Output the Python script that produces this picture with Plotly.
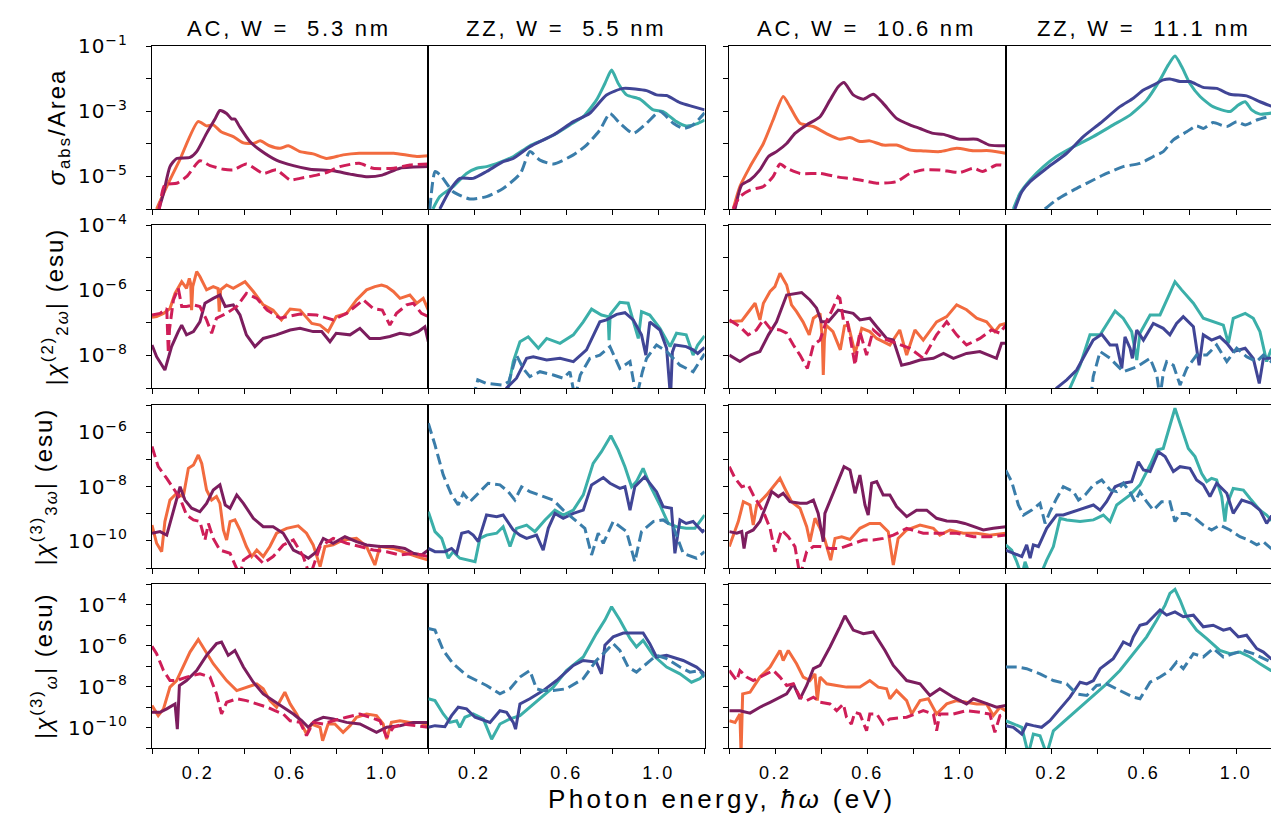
import plotly.graph_objects as go

# ---------------- data (x in eV, y given as log10 of the quantity) ----------------
# Row 1: sigma_abs / Area
r1c1_orange = [(0.02,-6.0),(0.064,-5.31),(0.12,-4.5),(0.2,-3.32),(0.237,-3.45),(0.266,-3.42),(0.30,-3.63),(0.353,-3.78),(0.397,-3.97),(0.44,-3.99),(0.47,-3.91),(0.51,-4.06),(0.556,-4.14),(0.592,-4.06),(0.643,-4.24),(0.70,-4.31),(0.758,-4.45),(0.83,-4.34),(0.90,-4.29),(0.975,-4.29),(1.05,-4.29),(1.15,-4.39),(1.2,-4.37)]
r1c1_purple = [(0.03,-6.0),(0.05,-5.52),(0.078,-4.70),(0.107,-4.45),(0.165,-4.42),(0.194,-4.24),(0.237,-3.68),(0.273,-3.25),(0.295,-2.98),(0.324,-3.07),(0.346,-3.24),(0.36,-3.24),(0.38,-3.47),(0.425,-3.93),(0.469,-4.19),(0.54,-4.50),(0.614,-4.67),(0.686,-4.78),(0.787,-4.83),(0.86,-4.93),(0.93,-5.01),(1.0,-4.96),(1.077,-4.75),(1.2,-4.70)]
r1c1_crimson = [(0.03,-6.1),(0.056,-5.26),(0.107,-5.21),(0.15,-5.01),(0.208,-4.52),(0.252,-4.67),(0.31,-4.78),(0.353,-4.80),(0.41,-4.62),(0.483,-4.91),(0.54,-4.80),(0.6,-5.11),(0.643,-5.06),(0.715,-4.96),(0.758,-4.88),(0.816,-4.70),(0.90,-4.60),(0.96,-4.75),(1.05,-4.75),(1.12,-4.65),(1.2,-4.62)]

r1c2_teal = [(0.02,-6.0),(0.05,-5.62),(0.108,-5.31),(0.166,-4.91),(0.21,-4.75),(0.253,-4.70),(0.31,-4.57),(0.37,-4.39),(0.441,-4.06),(0.50,-3.88),(0.557,-3.68),(0.615,-3.42),(0.673,-3.17),(0.73,-2.66),(0.767,-2.15),(0.796,-1.74),(0.825,-2.15),(0.861,-2.50),(0.919,-2.63),(0.977,-2.96),(1.02,-3.01),(1.078,-3.32),(1.12,-3.45),(1.165,-3.39),(1.2,-3.27)]
r1c2_indigo = [(0.05,-6.0),(0.094,-5.42),(0.137,-5.06),(0.195,-5.06),(0.253,-4.85),(0.325,-4.55),(0.369,-4.45),(0.441,-4.09),(0.543,-3.73),(0.63,-3.32),(0.70,-3.07),(0.774,-2.50),(0.847,-2.30),(0.948,-2.37),(0.991,-2.50),(1.035,-2.52),(1.093,-2.74),(1.15,-2.86),(1.2,-2.96)]
r1c2_steel = [(0.007,-6.0),(0.03,-4.85),(0.058,-5.01),(0.108,-5.47),(0.18,-5.69),(0.253,-5.62),(0.325,-5.37),(0.40,-4.91),(0.441,-4.24),(0.485,-4.50),(0.543,-4.62),(0.63,-4.34),(0.687,-4.04),(0.745,-3.58),(0.789,-3.07),(0.832,-3.37),(0.89,-3.68),(0.948,-3.37),(1.006,-3.01),(1.064,-3.37),(1.107,-3.53),(1.15,-3.42),(1.2,-3.05)]

r1c3_orange = [(0.017,-6.0),(0.046,-5.31),(0.09,-4.70),(0.148,-3.99),(0.19,-3.27),(0.234,-2.55),(0.263,-2.86),(0.307,-3.37),(0.365,-3.47),(0.42,-3.68),(0.48,-3.86),(0.524,-3.81),(0.567,-3.93),(0.61,-3.91),(0.668,-4.04),(0.726,-4.04),(0.784,-4.19),(0.842,-4.22),(0.914,-4.24),(0.987,-4.14),(1.06,-4.21),(1.13,-4.21),(1.2,-4.29)]
r1c3_purple = [(0.025,-6.0),(0.054,-5.26),(0.09,-5.11),(0.133,-4.80),(0.17,-4.39),(0.205,-4.24),(0.249,-3.99),(0.285,-3.68),(0.336,-3.42),(0.394,-3.17),(0.437,-2.66),(0.473,-2.25),(0.498,-2.12),(0.538,-2.50),(0.582,-2.63),(0.625,-2.48),(0.668,-2.76),(0.726,-3.22),(0.784,-3.42),(0.828,-3.53),(0.886,-3.68),(0.93,-3.71),(1.0,-3.86),(1.074,-3.86),(1.13,-4.04),(1.2,-4.06)]
r1c3_crimson = [(0.017,-6.0),(0.046,-5.62),(0.09,-5.42),(0.148,-5.31),(0.19,-5.01),(0.22,-4.62),(0.249,-4.75),(0.307,-4.91),(0.394,-4.91),(0.48,-5.03),(0.524,-5.06),(0.567,-5.11),(0.64,-5.21),(0.726,-5.16),(0.784,-4.91),(0.842,-4.80),(0.914,-4.80),(1.0,-4.88),(1.06,-4.75),(1.10,-4.85),(1.16,-4.65),(1.2,-4.67)]

r1c4_teal = [(0.033,-6.0),(0.062,-5.52),(0.106,-5.11),(0.164,-4.70),(0.22,-4.39),(0.294,-4.09),(0.38,-3.78),(0.467,-3.42),(0.54,-3.12),(0.612,-2.66),(0.67,-2.04),(0.706,-1.58),(0.735,-1.31),(0.764,-1.63),(0.80,-2.15),(0.844,-2.55),(0.90,-2.86),(0.974,-3.01),(1.01,-2.81),(1.04,-2.71),(1.068,-2.96),(1.104,-3.09),(1.2,-3.0)]
r1c4_indigo = [(0.04,-6.0),(0.07,-5.47),(0.106,-5.16),(0.178,-4.75),(0.265,-4.29),(0.337,-3.78),(0.41,-3.37),(0.496,-2.86),(0.554,-2.60),(0.598,-2.35),(0.641,-2.20),(0.684,-2.04),(0.713,-2.01),(0.757,-2.09),(0.80,-2.09),(0.858,-2.27),(0.916,-2.30),(0.974,-2.48),(1.046,-2.53),(1.104,-2.71),(1.152,-2.84),(1.2,-2.92)]
r1c4_steel = [(0.17,-6.0),(0.22,-5.72),(0.294,-5.42),(0.38,-5.11),(0.438,-4.91),(0.51,-4.70),(0.583,-4.60),(0.641,-4.39),(0.684,-4.24),(0.728,-3.88),(0.786,-3.63),(0.829,-3.45),(0.858,-3.53),(0.90,-3.35),(0.96,-3.47),(1.003,-3.32),(1.04,-3.42),(1.09,-3.27),(1.152,-3.15),(1.2,-3.1)]

# Row 2: |chi^(2)_2w|
r2c1_orange = [(0,-6.83),(0.02,-6.81),(0.05,-6.71),(0.078,-6.56),(0.1,-6.10),(0.129,-5.74),(0.15,-5.94),(0.162,-5.64),(0.168,-5.8),(0.172,-6.61),(0.177,-5.89),(0.194,-5.43),(0.208,-5.58),(0.237,-5.99),(0.266,-5.89),(0.287,-5.95),(0.292,-6.66),(0.298,-5.99),(0.324,-5.84),(0.353,-5.94),(0.404,-5.74),(0.44,-6.04),(0.483,-6.45),(0.526,-6.61),(0.562,-6.91),(0.6,-6.58),(0.643,-6.61),(0.694,-7.02),(0.73,-7.07),(0.765,-7.27),(0.80,-6.81),(0.845,-6.71),(0.888,-6.30),(0.932,-5.99),(0.968,-5.89),(0.997,-5.84),(1.019,-5.89),(1.048,-6.04),(1.077,-6.25),(1.12,-6.15),(1.15,-6.40),(1.178,-6.25),(1.2,-6.61)]
r2c1_purple = [(0,-7.68),(0.02,-8.04),(0.056,-8.45),(0.085,-7.73),(0.114,-7.27),(0.129,-7.07),(0.15,-7.37),(0.18,-7.27),(0.208,-6.97),(0.23,-6.40),(0.266,-6.25),(0.295,-6.15),(0.318,-6.50),(0.353,-6.45),(0.382,-6.76),(0.41,-7.37),(0.447,-7.73),(0.483,-7.48),(0.54,-7.37),(0.6,-7.22),(0.643,-7.17),(0.70,-7.27),(0.737,-7.27),(0.773,-7.58),(0.80,-7.32),(0.86,-7.37),(0.903,-7.17),(0.946,-7.48),(0.99,-7.48),(1.033,-7.42),(1.077,-7.32),(1.12,-7.37),(1.156,-7.27),(1.185,-7.12),(1.2,-7.58)]
r2c1_crimson = [(0,-6.76),(0.035,-6.71),(0.064,-6.56),(0.068,-7.2),(0.071,-7.94),(0.076,-7.2),(0.093,-6.30),(0.114,-5.94),(0.129,-6.50),(0.15,-6.50),(0.18,-6.45),(0.208,-6.50),(0.237,-6.91),(0.259,-7.32),(0.28,-6.86),(0.324,-6.71),(0.368,-6.50),(0.41,-6.10),(0.455,-6.25),(0.50,-6.61),(0.556,-6.86),(0.643,-6.73),(0.715,-6.76),(0.787,-6.91),(0.845,-6.71),(0.918,-6.30),(0.96,-6.56),(1.0,-6.61),(1.033,-7.07),(1.062,-6.71),(1.106,-6.45),(1.135,-6.40),(1.17,-6.71),(1.2,-6.81)]

r2c2_teal = [(0.335,-9.3),(0.347,-9.0),(0.369,-8.19),(0.398,-7.58),(0.434,-7.43),(0.478,-7.78),(0.514,-7.48),(0.572,-7.63),(0.63,-7.37),(0.673,-6.97),(0.709,-6.58),(0.752,-6.76),(0.781,-6.81),(0.785,-7.53),(0.79,-6.75),(0.832,-6.37),(0.868,-6.40),(0.897,-7.07),(0.912,-7.48),(0.926,-6.66),(0.962,-6.76),(1.006,-7.17),(1.05,-7.73),(1.078,-7.32),(1.12,-7.37),(1.15,-7.99),(1.17,-7.68),(1.2,-7.40)]
r2c2_indigo = [(0.33,-9.3),(0.34,-9.0),(0.383,-8.70),(0.427,-8.09),(0.456,-8.04),(0.514,-8.14),(0.572,-8.09),(0.63,-8.19),(0.687,-7.83),(0.745,-6.97),(0.774,-6.91),(0.818,-6.74),(0.854,-6.69),(0.89,-6.91),(0.926,-7.37),(0.945,-7.99),(0.962,-6.97),(1.006,-7.22),(1.035,-7.78),(1.052,-9.3),(1.06,-7.9),(1.071,-7.68),(1.12,-7.73),(1.15,-7.83),(1.17,-7.94),(1.2,-7.75)]
r2c2_steel = [(0.195,-9.3),(0.215,-8.75),(0.253,-8.86),(0.325,-8.91),(0.35,-8.8),(0.383,-7.99),(0.412,-8.40),(0.441,-8.65),(0.485,-8.50),(0.543,-8.60),(0.586,-8.70),(0.615,-8.50),(0.637,-9.3),(0.66,-8.6),(0.702,-8.09),(0.745,-7.99),(0.789,-7.73),(0.832,-8.40),(0.876,-8.19),(0.904,-9.3),(0.93,-8.5),(0.948,-8.09),(0.991,-7.68),(1.035,-7.88),(1.093,-8.30),(1.15,-8.50),(1.2,-7.95)]

r2c3_orange = [(0.0,-6.97),(0.054,-6.94),(0.084,-6.66),(0.112,-6.40),(0.133,-6.91),(0.148,-6.40),(0.177,-6.04),(0.198,-5.89),(0.22,-5.48),(0.249,-5.84),(0.27,-6.45),(0.292,-6.66),(0.32,-6.97),(0.347,-7.37),(0.365,-6.86),(0.394,-6.71),(0.404,-7.5),(0.408,-8.60),(0.413,-7.5),(0.42,-7.07),(0.45,-7.27),(0.482,-7.83),(0.50,-7.1),(0.517,-7.07),(0.546,-7.94),(0.575,-7.17),(0.61,-7.27),(0.64,-7.48),(0.668,-7.58),(0.697,-7.68),(0.74,-7.22),(0.77,-7.99),(0.806,-7.22),(0.842,-7.53),(0.9,-6.97),(0.944,-6.81),(0.987,-6.45),(1.03,-6.60),(1.074,-6.86),(1.117,-6.97),(1.153,-7.27),(1.175,-7.07),(1.2,-7.02)]
r2c3_purple = [(0.0,-7.99),(0.046,-8.19),(0.09,-7.99),(0.133,-7.88),(0.17,-7.37),(0.205,-6.97),(0.249,-6.15),(0.314,-6.07),(0.35,-6.30),(0.379,-6.55),(0.4,-6.97),(0.43,-6.97),(0.473,-6.61),(0.502,-6.66),(0.538,-6.71),(0.567,-6.91),(0.61,-6.86),(0.64,-7.12),(0.683,-7.48),(0.712,-7.53),(0.748,-8.30),(0.784,-8.24),(0.828,-8.14),(0.886,-8.09),(0.93,-7.94),(0.973,-8.09),(1.03,-7.94),(1.088,-7.88),(1.16,-8.09),(1.182,-7.63),(1.2,-7.63)]
r2c3_crimson = [(0.0,-6.91),(0.046,-7.12),(0.082,-7.37),(0.118,-7.22),(0.148,-6.91),(0.177,-7.17),(0.22,-7.22),(0.249,-7.32),(0.278,-7.68),(0.307,-7.99),(0.339,-8.40),(0.365,-7.68),(0.394,-7.53),(0.42,-6.97),(0.443,-6.66),(0.472,-6.20),(0.48,-6.25),(0.494,-6.86),(0.51,-6.86),(0.546,-8.30),(0.567,-7.27),(0.596,-7.99),(0.625,-7.22),(0.668,-7.48),(0.726,-7.63),(0.784,-7.78),(0.842,-8.09),(0.9,-7.37),(0.944,-6.97),(0.987,-7.37),(1.03,-7.68),(1.088,-7.48),(1.138,-7.22),(1.175,-7.32),(1.2,-7.07)]

r2c4_teal = [(0.27,-9.3),(0.279,-9.0),(0.323,-8.30),(0.366,-7.37),(0.41,-7.37),(0.438,-7.07),(0.475,-6.64),(0.51,-6.86),(0.547,-7.27),(0.569,-8.14),(0.583,-7.32),(0.627,-6.76),(0.67,-6.76),(0.706,-6.20),(0.735,-5.74),(0.764,-5.99),(0.815,-6.40),(0.858,-6.86),(0.90,-6.97),(0.945,-7.07),(0.967,-7.63),(0.988,-6.86),(1.04,-6.71),(1.075,-6.86),(1.104,-7.27),(1.133,-8.19),(1.152,-7.83),(1.2,-7.6)]
r2c4_indigo = [(0.21,-9.3),(0.221,-9.0),(0.265,-8.75),(0.308,-8.45),(0.352,-7.88),(0.38,-7.53),(0.417,-7.35),(0.453,-7.68),(0.482,-7.68),(0.504,-8.40),(0.518,-7.43),(0.54,-7.78),(0.55,-8.09),(0.569,-7.22),(0.598,-7.53),(0.641,-7.02),(0.684,-7.17),(0.713,-7.37),(0.742,-7.02),(0.771,-6.81),(0.815,-7.12),(0.84,-8.30),(0.858,-7.37),(0.894,-7.53),(0.93,-7.43),(0.96,-7.63),(0.988,-7.88),(1.04,-7.78),(1.075,-8.09),(1.101,-8.86),(1.119,-8.09),(1.152,-8.09),(1.2,-8.0)]
r2c4_steel = [(0.37,-9.3),(0.38,-8.65),(0.41,-7.88),(0.453,-8.09),(0.511,-8.50),(0.569,-8.35),(0.627,-8.09),(0.656,-8.60),(0.67,-9.3),(0.685,-8.5),(0.699,-8.19),(0.728,-8.30),(0.757,-8.91),(0.786,-8.40),(0.829,-7.99),(0.873,-7.99),(0.916,-7.68),(0.96,-8.19),(1.003,-7.78),(1.046,-8.04),(1.09,-8.19),(1.119,-7.99),(1.152,-8.19),(1.2,-8.1)]

# Row 3: |chi^(3)_3w|
r3c1_orange = [(0,-9.42),(0.02,-10.09),(0.042,-10.40),(0.056,-9.29),(0.078,-8.50),(0.107,-8.25),(0.136,-8.37),(0.158,-7.33),(0.18,-7.21),(0.201,-6.84),(0.216,-7.15),(0.237,-8.13),(0.259,-8.50),(0.28,-8.37),(0.295,-8.62),(0.31,-9.60),(0.324,-9.97),(0.339,-9.29),(0.36,-9.23),(0.382,-9.60),(0.41,-10.21),(0.433,-10.58),(0.455,-10.34),(0.483,-10.58),(0.512,-10.21),(0.541,-9.72),(0.585,-9.54),(0.635,-9.45),(0.671,-9.72),(0.70,-10.15),(0.73,-10.95),(0.751,-10.21),(0.787,-10.15),(0.83,-9.97),(0.888,-9.91),(0.932,-10.21),(0.968,-10.89),(0.99,-10.21),(1.048,-10.28),(1.106,-10.46),(1.15,-10.58),(1.2,-10.71)]
r3c1_purple = [(0,-9.72),(0.035,-9.66),(0.064,-9.79),(0.085,-9.11),(0.107,-8.50),(0.122,-8.01),(0.143,-8.50),(0.172,-8.80),(0.208,-8.93),(0.237,-8.62),(0.266,-8.13),(0.295,-7.94),(0.318,-8.68),(0.339,-8.80),(0.368,-8.31),(0.397,-8.62),(0.44,-9.17),(0.483,-9.48),(0.526,-9.48),(0.57,-9.72),(0.614,-10.34),(0.643,-10.46),(0.679,-10.64),(0.715,-10.40),(0.744,-9.91),(0.787,-10.09),(0.838,-9.85),(0.888,-10.03),(0.932,-10.15),(0.99,-10.21),(1.048,-10.21),(1.098,-10.28),(1.135,-10.46),(1.171,-10.52),(1.2,-10.34)]
r3c1_crimson = [(0,-6.53),(0.027,-7.27),(0.064,-7.70),(0.093,-8.07),(0.122,-8.44),(0.15,-9.05),(0.18,-9.23),(0.208,-9.29),(0.23,-9.97),(0.245,-9.36),(0.266,-9.91),(0.295,-10.34),(0.339,-10.46),(0.382,-11.3),(0.397,-10.71),(0.44,-10.46),(0.483,-10.83),(0.526,-10.58),(0.57,-10.15),(0.614,-9.97),(0.657,-10.58),(0.686,-11.3),(0.73,-10.21),(0.787,-9.91),(0.845,-10.09),(0.903,-10.21),(0.961,-10.34),(1.019,-10.40),(1.077,-10.52),(1.135,-10.46),(1.2,-10.58)]

r3c2_teal = [(0,-8.93),(0.029,-9.66),(0.058,-9.91),(0.087,-10.64),(0.108,-10.40),(0.137,-10.64),(0.203,-10.77),(0.224,-9.91),(0.253,-9.79),(0.297,-9.72),(0.325,-9.48),(0.355,-10.21),(0.383,-9.54),(0.427,-9.42),(0.463,-9.66),(0.507,-9.23),(0.55,-8.87),(0.586,-9.05),(0.63,-8.87),(0.673,-8.31),(0.716,-7.15),(0.752,-6.72),(0.793,-6.13),(0.825,-6.66),(0.854,-7.27),(0.883,-8.01),(0.904,-7.82),(0.933,-7.33),(0.962,-7.94),(1.006,-8.68),(1.042,-9.36),(1.078,-9.48),(1.12,-9.54),(1.158,-9.54),(1.2,-9.05)]
r3c2_indigo = [(0,-10.28),(0.029,-10.40),(0.072,-10.40),(0.101,-10.28),(0.123,-10.46),(0.145,-9.72),(0.174,-9.66),(0.195,-9.79),(0.217,-10.03),(0.253,-9.05),(0.297,-9.11),(0.325,-9.05),(0.369,-9.60),(0.398,-9.79),(0.427,-9.91),(0.47,-9.79),(0.499,-10.34),(0.521,-9.54),(0.55,-8.99),(0.586,-9.17),(0.63,-8.99),(0.673,-8.87),(0.709,-7.94),(0.76,-7.67),(0.789,-7.88),(0.832,-8.07),(0.854,-8.01),(0.876,-8.87),(0.897,-8.01),(0.94,-7.64),(0.991,-8.19),(1.02,-8.74),(1.056,-8.80),(1.071,-10.46),(1.093,-9.23),(1.12,-9.36),(1.15,-9.29),(1.191,-9.66),(1.2,-9.6)]
r3c2_steel = [(0,-5.67),(0.029,-6.47),(0.065,-7.58),(0.101,-8.31),(0.13,-8.68),(0.152,-8.25),(0.181,-8.56),(0.217,-8.25),(0.26,-7.88),(0.311,-7.94),(0.347,-8.19),(0.376,-8.50),(0.405,-8.01),(0.441,-8.19),(0.499,-8.37),(0.543,-8.50),(0.586,-8.87),(0.63,-9.17),(0.68,-9.54),(0.709,-10.52),(0.738,-9.72),(0.76,-10.09),(0.803,-9.29),(0.861,-9.66),(0.897,-10.77),(0.926,-9.66),(0.977,-9.29),(1.02,-9.23),(1.064,-9.48),(1.107,-10.46),(1.165,-10.64),(1.2,-10.40)]

r3c3_orange = [(0.0,-10.21),(0.039,-9.29),(0.061,-8.56),(0.09,-8.68),(0.104,-9.42),(0.119,-8.68),(0.162,-8.31),(0.198,-7.94),(0.22,-7.70),(0.241,-8.07),(0.27,-8.56),(0.307,-8.80),(0.336,-9.48),(0.35,-10.03),(0.372,-9.17),(0.394,-9.54),(0.415,-9.97),(0.44,-10.71),(0.459,-9.91),(0.488,-9.85),(0.524,-9.95),(0.567,-9.54),(0.61,-9.36),(0.654,-9.36),(0.69,-9.66),(0.712,-10.89),(0.733,-9.91),(0.77,-9.60),(0.828,-9.42),(0.886,-9.54),(0.914,-9.79),(0.958,-9.60),(1.016,-9.72),(1.074,-9.72),(1.13,-9.79),(1.2,-9.72)]
r3c3_purple = [(0.0,-9.66),(0.032,-9.72),(0.054,-9.66),(0.064,-10.28),(0.075,-9.72),(0.104,-9.60),(0.133,-9.29),(0.162,-8.62),(0.184,-8.19),(0.213,-8.37),(0.234,-8.25),(0.263,-8.56),(0.307,-8.62),(0.336,-8.62),(0.365,-8.50),(0.386,-8.99),(0.408,-10.03),(0.415,-8.99),(0.452,-8.19),(0.498,-7.27),(0.524,-7.39),(0.546,-8.25),(0.567,-7.58),(0.589,-8.68),(0.603,-9.05),(0.618,-7.88),(0.64,-7.82),(0.668,-8.31),(0.697,-8.31),(0.726,-8.74),(0.77,-9.11),(0.813,-8.87),(0.857,-8.87),(0.9,-9.17),(0.944,-9.27),(0.987,-9.29),(1.022,-9.36),(1.06,-9.48),(1.103,-9.60),(1.146,-9.54),(1.2,-9.48)]
r3c3_crimson = [(0.0,-7.27),(0.025,-7.70),(0.054,-8.01),(0.082,-7.94),(0.104,-8.31),(0.148,-8.93),(0.177,-9.54),(0.198,-10.40),(0.227,-9.60),(0.256,-9.85),(0.285,-10.21),(0.307,-11.3),(0.336,-10.40),(0.365,-10.21),(0.394,-10.21),(0.437,-10.28),(0.48,-10.28),(0.538,-10.09),(0.582,-9.97),(0.625,-9.97),(0.668,-9.91),(0.712,-9.79),(0.77,-9.54),(0.842,-9.72),(0.914,-9.72),(0.987,-9.72),(1.06,-9.85),(1.13,-9.85),(1.2,-9.79)]

r3c4_teal = [(0.0,-10.15),(0.026,-10.34),(0.048,-10.77),(0.07,-11.3),(0.084,-10.77),(0.106,-11.3),(0.149,-11.3),(0.178,-10.71),(0.207,-10.21),(0.236,-9.17),(0.265,-9.23),(0.323,-9.29),(0.381,-9.23),(0.424,-9.05),(0.453,-9.29),(0.482,-8.68),(0.54,-8.31),(0.583,-7.94),(0.627,-7.21),(0.656,-6.66),(0.684,-6.60),(0.706,-5.98),(0.735,-5.12),(0.764,-5.86),(0.793,-6.60),(0.822,-6.90),(0.851,-7.52),(0.873,-7.82),(0.894,-7.70),(0.916,-7.76),(0.938,-8.37),(0.952,-9.29),(0.96,-8.68),(0.988,-8.07),(1.032,-8.13),(1.061,-8.44),(1.104,-8.87),(1.133,-9.05),(1.152,-9.23),(1.2,-9.4)]
r3c4_indigo = [(0.0,-10.34),(0.033,-10.46),(0.07,-10.58),(0.091,-10.15),(0.106,-10.64),(0.12,-10.15),(0.142,-10.21),(0.178,-9.54),(0.221,-9.05),(0.25,-9.05),(0.294,-8.93),(0.337,-8.80),(0.381,-8.68),(0.41,-8.87),(0.438,-8.56),(0.475,-8.01),(0.511,-7.88),(0.547,-7.82),(0.576,-7.09),(0.598,-7.39),(0.627,-7.45),(0.663,-6.72),(0.692,-6.90),(0.728,-7.45),(0.757,-7.27),(0.80,-7.33),(0.829,-7.76),(0.858,-7.94),(0.887,-8.37),(0.916,-7.88),(0.96,-8.25),(0.988,-8.99),(1.025,-8.50),(1.068,-8.62),(1.104,-8.87),(1.133,-9.36),(1.152,-9.11),(1.2,-9.2)]
r3c4_steel = [(0.0,-7.40),(0.026,-7.82),(0.055,-8.68),(0.077,-9.05),(0.113,-8.87),(0.149,-8.62),(0.171,-9.36),(0.192,-8.93),(0.221,-8.44),(0.25,-8.01),(0.294,-8.19),(0.316,-8.50),(0.345,-8.31),(0.381,-7.94),(0.417,-7.76),(0.454,-8.13),(0.482,-8.19),(0.511,-7.88),(0.539,-8.19),(0.561,-8.56),(0.583,-8.19),(0.612,-8.56),(0.641,-8.87),(0.677,-8.56),(0.713,-8.56),(0.735,-9.29),(0.757,-8.99),(0.786,-8.99),(0.822,-9.17),(0.858,-9.42),(0.894,-9.60),(0.93,-9.42),(0.974,-9.60),(1.017,-9.85),(1.054,-9.97),(1.09,-10.15),(1.119,-10.03),(1.152,-10.28),(1.2,-10.35)]

# Row 4: |chi^(3)_w|
r4c1_orange = [(0,-8.93),(0.027,-9.42),(0.05,-9.09),(0.078,-8.03),(0.107,-7.71),(0.136,-7.05),(0.165,-6.32),(0.201,-5.71),(0.23,-6.24),(0.266,-6.89),(0.295,-7.30),(0.324,-7.71),(0.368,-8.20),(0.41,-8.03),(0.455,-7.87),(0.483,-8.11),(0.512,-8.69),(0.541,-9.01),(0.577,-8.28),(0.6,-8.85),(0.628,-9.34),(0.65,-9.83),(0.671,-10.32),(0.693,-9.83),(0.73,-9.99),(0.741,-10.65),(0.765,-9.83),(0.794,-9.83),(0.83,-10.24),(0.86,-9.91),(0.888,-9.50),(0.932,-9.34),(0.975,-9.42),(1.004,-9.83),(1.019,-10.57),(1.04,-9.75),(1.077,-9.67),(1.12,-9.75),(1.164,-9.75),(1.2,-9.91)]
r4c1_purple = [(0,-9.26),(0.035,-9.26),(0.064,-9.09),(0.1,-8.85),(0.11,-10.08),(0.119,-7.95),(0.15,-7.71),(0.194,-7.22),(0.237,-6.48),(0.28,-5.91),(0.302,-5.83),(0.331,-6.48),(0.36,-6.24),(0.397,-7.05),(0.44,-7.79),(0.483,-8.36),(0.527,-8.69),(0.57,-9.01),(0.614,-9.34),(0.65,-9.67),(0.679,-9.99),(0.708,-9.67),(0.744,-9.50),(0.787,-9.58),(0.845,-9.75),(0.903,-9.83),(0.946,-10.08),(0.975,-10.24),(1.019,-9.99),(1.077,-9.91),(1.135,-9.75),(1.2,-9.75)]
r4c1_crimson = [(0,-6.04),(0.02,-6.40),(0.05,-7.22),(0.078,-7.71),(0.107,-7.71),(0.15,-7.54),(0.208,-7.38),(0.252,-7.54),(0.28,-8.36),(0.302,-9.34),(0.324,-8.77),(0.368,-8.60),(0.41,-8.69),(0.455,-8.85),(0.5,-9.01),(0.534,-9.18),(0.57,-9.34),(0.6,-9.67),(0.643,-9.75),(0.671,-10.40),(0.70,-9.75),(0.744,-9.83),(0.787,-9.67),(0.845,-9.50),(0.903,-9.34),(0.946,-9.50),(0.99,-9.67),(1.019,-10.48),(1.048,-9.99),(1.09,-9.83),(1.15,-9.91),(1.2,-9.99)]

r4c2_teal = [(0,-8.60),(0.029,-8.69),(0.065,-9.34),(0.094,-9.75),(0.123,-9.67),(0.137,-9.99),(0.159,-9.50),(0.195,-9.34),(0.239,-9.58),(0.275,-10.57),(0.311,-9.83),(0.355,-9.58),(0.398,-9.42),(0.441,-9.01),(0.485,-8.60),(0.543,-8.03),(0.6,-7.22),(0.673,-6.56),(0.73,-5.42),(0.767,-4.76),(0.796,-4.11),(0.832,-4.76),(0.876,-5.66),(0.904,-6.07),(0.933,-5.75),(0.977,-6.48),(1.035,-7.05),(1.093,-7.38),(1.143,-7.79),(1.179,-7.62),(1.2,-7.38)]
r4c2_indigo = [(0,-9.99),(0.029,-9.91),(0.072,-9.96),(0.101,-9.42),(0.13,-9.01),(0.166,-9.09),(0.203,-9.50),(0.268,-9.75),(0.311,-9.18),(0.34,-9.26),(0.369,-9.75),(0.379,-10.08),(0.398,-8.85),(0.441,-8.60),(0.499,-8.20),(0.557,-7.71),(0.63,-6.97),(0.673,-6.73),(0.73,-6.81),(0.752,-7.38),(0.767,-5.99),(0.803,-5.58),(0.847,-5.39),(0.933,-5.39),(0.962,-5.91),(0.991,-6.56),(1.035,-6.48),(1.107,-6.73),(1.165,-7.05),(1.2,-7.38)]
r4c2_steel = [(0,-5.17),(0.029,-5.25),(0.065,-6.24),(0.108,-6.89),(0.166,-7.46),(0.21,-7.71),(0.253,-7.95),(0.311,-8.36),(0.355,-8.11),(0.398,-7.54),(0.441,-7.22),(0.47,-8.11),(0.499,-8.20),(0.543,-8.20),(0.6,-8.11),(0.673,-7.62),(0.73,-6.73),(0.767,-6.32),(0.803,-5.91),(0.832,-6.24),(0.868,-7.05),(0.904,-7.30),(0.948,-6.89),(0.991,-6.48),(1.035,-6.64),(1.093,-7.05),(1.136,-7.30),(1.179,-7.22),(1.2,-7.54)]

r4c3_orange = [(0.0,-9.67),(0.025,-9.75),(0.046,-9.34),(0.051,-11.3),(0.058,-8.36),(0.09,-8.28),(0.133,-7.54),(0.177,-7.05),(0.22,-6.24),(0.234,-6.73),(0.256,-6.24),(0.292,-6.89),(0.321,-7.54),(0.35,-7.71),(0.372,-7.38),(0.382,-8.69),(0.394,-7.54),(0.423,-7.87),(0.466,-7.95),(0.509,-8.03),(0.567,-8.03),(0.61,-7.71),(0.647,-8.03),(0.683,-8.11),(0.697,-8.60),(0.726,-8.20),(0.77,-8.69),(0.792,-9.34),(0.828,-8.69),(0.864,-8.60),(0.9,-9.34),(0.944,-8.85),(0.987,-8.69),(1.03,-8.77),(1.074,-8.85),(1.117,-8.85),(1.146,-9.42),(1.175,-9.01),(1.2,-9.18)]
r4c3_purple = [(0.0,-9.18),(0.046,-9.18),(0.09,-9.30),(0.133,-9.01),(0.177,-8.77),(0.22,-8.52),(0.249,-8.36),(0.278,-7.87),(0.307,-8.60),(0.336,-7.95),(0.365,-7.13),(0.394,-6.97),(0.437,-6.07),(0.48,-5.09),(0.502,-4.55),(0.538,-5.25),(0.582,-5.42),(0.625,-5.34),(0.676,-6.24),(0.712,-6.97),(0.77,-7.71),(0.828,-7.87),(0.871,-8.44),(0.914,-8.11),(0.973,-8.52),(1.03,-8.85),(1.059,-8.60),(1.103,-8.77),(1.16,-9.01),(1.2,-8.93)]
r4c3_crimson = [(0.0,-7.22),(0.032,-7.71),(0.046,-7.22),(0.075,-7.54),(0.104,-7.71),(0.133,-7.54),(0.162,-7.38),(0.191,-7.22),(0.22,-7.54),(0.249,-7.95),(0.278,-7.87),(0.307,-8.52),(0.336,-8.69),(0.365,-8.52),(0.394,-8.77),(0.437,-8.85),(0.466,-9.18),(0.495,-8.85),(0.509,-9.50),(0.53,-9.83),(0.545,-9.26),(0.567,-9.34),(0.596,-10.16),(0.61,-9.34),(0.64,-9.34),(0.668,-9.83),(0.697,-9.58),(0.77,-9.50),(0.842,-9.18),(0.886,-9.34),(0.9,-10.16),(0.914,-9.34),(0.973,-9.34),(1.03,-9.18),(1.088,-9.26),(1.131,-9.34),(1.153,-10.24),(1.175,-9.42),(1.2,-9.34)]

r4c4_teal = [(0.0,-9.67),(0.033,-9.83),(0.07,-9.99),(0.098,-11.3),(0.12,-10.32),(0.149,-10.40),(0.178,-11.3),(0.207,-10.16),(0.265,-9.58),(0.323,-9.01),(0.381,-8.44),(0.438,-7.87),(0.496,-7.22),(0.554,-6.40),(0.612,-5.58),(0.656,-4.76),(0.692,-4.03),(0.713,-3.46),(0.735,-3.26),(0.757,-3.78),(0.786,-4.60),(0.829,-5.25),(0.873,-5.66),(0.93,-6.24),(0.974,-6.40),(1.017,-6.32),(1.061,-6.56),(1.104,-6.89),(1.152,-7.22),(1.2,-7.4)]
r4c4_indigo = [(0.0,-9.91),(0.033,-9.99),(0.07,-10.32),(0.091,-9.83),(0.12,-9.91),(0.156,-9.99),(0.192,-9.67),(0.236,-9.09),(0.279,-8.52),(0.323,-7.79),(0.352,-7.87),(0.381,-7.71),(0.41,-7.13),(0.438,-6.89),(0.467,-6.64),(0.489,-6.24),(0.511,-5.83),(0.54,-5.99),(0.554,-5.58),(0.583,-5.01),(0.612,-4.93),(0.641,-4.60),(0.67,-4.27),(0.699,-4.52),(0.735,-4.36),(0.771,-4.60),(0.815,-4.52),(0.858,-5.09),(0.901,-5.01),(0.945,-5.25),(0.974,-5.17),(1.01,-5.58),(1.046,-5.50),(1.09,-6.15),(1.119,-6.32),(1.152,-6.64),(1.2,-6.8)]
r4c4_steel = [(0.0,-7.05),(0.048,-7.05),(0.091,-7.13),(0.149,-7.38),(0.207,-7.71),(0.265,-7.87),(0.308,-8.36),(0.352,-8.44),(0.395,-7.95),(0.438,-7.87),(0.496,-8.20),(0.554,-8.52),(0.583,-8.60),(0.627,-7.79),(0.67,-7.54),(0.713,-7.22),(0.742,-6.81),(0.771,-7.13),(0.815,-6.40),(0.858,-6.56),(0.901,-6.15),(0.945,-6.56),(0.988,-6.40),(1.032,-6.24),(1.075,-6.40),(1.119,-6.64),(1.152,-6.81),(1.2,-6.9)]

col_titles = ["AC, W =\u00a0 5.3 nm", "ZZ, W =\u00a0 5.5 nm", "AC, W =\u00a0 10.6 nm", "ZZ, W =\u00a0 11.1 nm"]
row_labels = ["<i>σ</i><sub>abs</sub>/Area",
              "|<i>χ</i><sup>(2)</sup><sub>2<i>ω</i></sub>| (esu)",
              "|<i>χ</i><sup>(3)</sup><sub>3<i>ω</i></sub>| (esu)",
              "|<i>χ</i><sup>(3)</sup><sub><i>ω</i></sub>| (esu)"]
x_label = "Photon energy, <i>ħω</i> (eV)"
x_tick_vals = [0.0, 0.2, 0.4, 0.6, 0.8, 1.0, 1.2]
x_tick_text = ["", "0.2", "", "0.6", "", "1.0", ""]
y_exp_ranges = [(-6, -1), (-9, -4), (-11, -5), (-11, -3)]
y_exp_labeled = [[-1, -3, -5], [-4, -6, -8], [-6, -8, -10], [-4, -6, -8, -10]]

panels = [
    [(r1c1_orange, r1c1_purple, r1c1_crimson), (r1c2_teal, r1c2_indigo, r1c2_steel),
     (r1c3_orange, r1c3_purple, r1c3_crimson), (r1c4_teal, r1c4_indigo, r1c4_steel)],
    [(r2c1_orange, r2c1_purple, r2c1_crimson), (r2c2_teal, r2c2_indigo, r2c2_steel),
     (r2c3_orange, r2c3_purple, r2c3_crimson), (r2c4_teal, r2c4_indigo, r2c4_steel)],
    [(r3c1_orange, r3c1_purple, r3c1_crimson), (r3c2_teal, r3c2_indigo, r3c2_steel),
     (r3c3_orange, r3c3_purple, r3c3_crimson), (r3c4_teal, r3c4_indigo, r3c4_steel)],
    [(r4c1_orange, r4c1_purple, r4c1_crimson), (r4c2_teal, r4c2_indigo, r4c2_steel),
     (r4c3_orange, r4c3_purple, r4c3_crimson), (r4c4_teal, r4c4_indigo, r4c4_steel)],
]

# ---------------- styling ----------------
W, H = 1271, 817
AC_COLORS = ["#F26B3F", "#7C1D5E", "#CF1E58"]
ZZ_COLORS = ["#3BAFA9", "#404596", "#3A7DAA"]
DASH = "11px,5px"
LW = 3.0
col_px = [(152, 428.3), (428.3, 704.6), (729.3, 1005.7), (1005.7, 1271)]
row_px = [(46, 209), (225, 388), (405, 568), (584, 748)]
x_max = [1.2, 1.2, 1.2, (1271 - 1005.7) / 230.3]
title_cx = [289, 565.5, 866.5, 1144]
ylabel_cx = [58, 54, 44, 44]
SANS = "Liberation Sans, Arial, sans-serif"
MATH = "DejaVu Sans, sans-serif"

def spaced(text, px):
    return "<span style='letter-spacing:%spx'>%s</span>" % (px, text)

def sup_label(e):
    return spaced("10<sup>\u2212%d</sup>" % (-e), 1)

fig = go.Figure()
layout = dict(width=W, height=H, autosize=False, margin=dict(l=0, r=0, t=0, b=0, pad=0),
              paper_bgcolor="white", plot_bgcolor="white", showlegend=False)

for r in range(4):
    for c in range(4):
        k = r * 4 + c + 1
        sfx = "" if k == 1 else str(k)
        colors = AC_COLORS if c in (0, 2) else ZZ_COLORS
        for i, curve in enumerate(panels[r][c]):
            xs = [p[0] for p in curve]
            ys = [10 ** p[1] for p in curve]
            line = dict(color=colors[i], width=LW, dash=DASH if i == 2 else "solid")
            if r == 0:
                line.update(shape="spline", smoothing=0.6)
            fig.add_trace(go.Scatter(
                x=xs, y=ys, mode="lines", xaxis="x" + sfx, yaxis="y" + sfx,
                line=line, hoverinfo="skip"))
        x0, x1 = col_px[c]
        y0, y1 = row_px[r]
        lo, hi = y_exp_ranges[r]
        yvals = [10.0 ** e for e in range(lo, hi + 1)]
        ytext = [sup_label(e) if e in y_exp_labeled[r] else "" for e in range(lo, hi + 1)]
        layout["xaxis" + sfx] = dict(
            domain=[x0 / W, x1 / W], anchor="y" + sfx, range=[0, x_max[c]],
            showline=True, linecolor="black", linewidth=1, mirror=True,
            ticks="outside", ticklen=5, tickwidth=1, tickcolor="black",
            tickvals=x_tick_vals, ticktext=[spaced(t, 2.5) if t else "" for t in x_tick_text],
            showticklabels=(r == 3),
            tickfont=dict(family=SANS, size=18, color="black"), ticklabelstandoff=3,
            showgrid=False, zeroline=False, fixedrange=True, automargin=False)
        layout["yaxis" + sfx] = dict(
            domain=[1 - y1 / H, 1 - y0 / H], anchor="x" + sfx, type="log", range=[lo, hi],
            showline=True, linecolor="black", linewidth=1, mirror=(c != 3),
            ticks="outside" if c in (0, 2) else "", ticklen=5, tickwidth=1, tickcolor="black",
            tickvals=yvals, ticktext=ytext, showticklabels=(c == 0),
            tickfont=dict(family=MATH, size=20, color="black"), ticklabelstandoff=14,
            showgrid=False, zeroline=False, fixedrange=True, automargin=False)

annotations = []
for c in range(4):
    annotations.append(dict(text=spaced(col_titles[c], 2.8), x=title_cx[c] / W, y=1 - 28 / H,
                            xref="paper", yref="paper", xanchor="center", yanchor="middle",
                            showarrow=False, font=dict(family=SANS, size=22, color="black")))
for r in range(4):
    cy = (row_px[r][0] + row_px[r][1]) / 2
    annotations.append(dict(text=spaced(row_labels[r], 2), x=ylabel_cx[r] / W, y=1 - cy / H,
                            xref="paper", yref="paper", xanchor="center", yanchor="middle",
                            textangle=-90, showarrow=False,
                            font=dict(family=SANS, size=24, color="black")))
annotations.append(dict(text=spaced(x_label, 3.4), x=722 / W, y=1 - 799 / H, xref="paper", yref="paper",
                        xanchor="center", yanchor="middle", showarrow=False,
                        font=dict(family=SANS, size=26, color="black")))
layout["annotations"] = annotations
fig.update_layout(**layout)

page_fix = ("document.documentElement.style.margin='0';document.documentElement.style.padding='0';"
            "document.documentElement.style.overflow='hidden';"
            "document.body.style.margin='0';document.body.style.padding='0';"
            "document.body.style.overflow='hidden';")
fig.write_html("out.html", config={"displayModeBar": False, "responsive": False},
               post_script=page_fix)
